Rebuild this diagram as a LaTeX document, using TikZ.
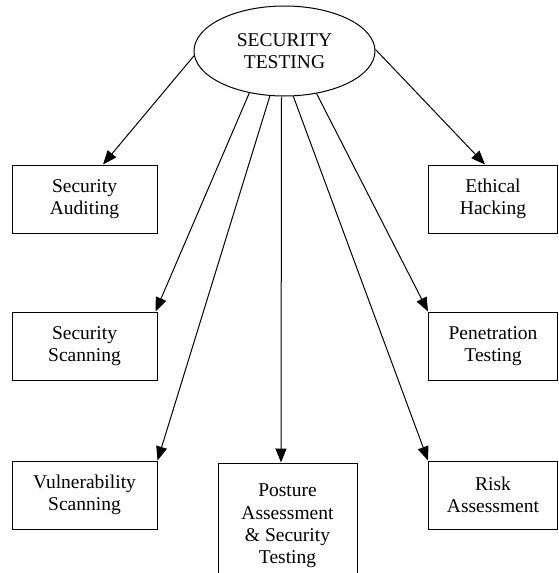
\documentclass[tikz,border=0pt]{standalone}
\usepackage{fontspec}
\setmainfont{Liberation Serif}
\usetikzlibrary{shapes.geometric,arrows.meta}
\begin{document}
\begin{tikzpicture}[x=1pt,y=-1pt,
  every node/.style={font=\fontsize{19.5}{22.4}\selectfont, align=center, line width=1pt, inner sep=0pt},
  topic/.style={draw, rectangle, minimum height=68pt},
  leftbox/.style={topic, minimum width=145pt},
  rightbox/.style={topic, minimum width=129pt},
  hub/.style={draw, ellipse, minimum width=181pt, minimum height=90pt},
  link/.style={line width=1pt, -{Triangle[length=14pt,width=11pt]}}]
  \useasboundingbox (0,0) rectangle (559,573);
  \clip (0,0) rectangle (559,573);

  % central topic
  \node[hub] (st) at (284.5,51) {SECURITY\\TESTING};

  % branches
  \node[leftbox]  (audit) at (84.5,199) {Security\\Auditing};
  \node[rightbox] (ethic) at (493,199)  {Ethical\\Hacking};
  \node[leftbox]  (scan)  at (84.5,346) {Security\\Scanning};
  \node[rightbox] (pen)   at (493,346)  {Penetration\\Testing};
  \node[leftbox]  (vuln)  at (84.5,495) {Vulnerability\\Scanning};
  \node[rightbox] (risk)  at (493,495)  {Risk\\Assessment};
  \node[draw, rectangle, minimum width=139pt, minimum height=122pt,
        text depth=0pt] (post) at (287.5,524)
        {Posture\\Assessment\\\& Security\\Testing};

  % connectors
  \draw[link] (st.183) -- ([xshift=18.5pt]audit.north);
  \draw[link] (st.1)   -- ([xshift=-8pt]ethic.north);
  \draw[link] (st.230) -- ([xshift=-2pt]scan.north east);
  \draw[link] (st.307) -- (pen.north west);
  \draw[link] (st.252) -- (vuln.north east);
  \draw[link] ([xshift=-3pt]st.south) -- ([xshift=-6.5pt]post.north);
  \draw[link] (st.281) -- (risk.north west);
\end{tikzpicture}
\end{document}
